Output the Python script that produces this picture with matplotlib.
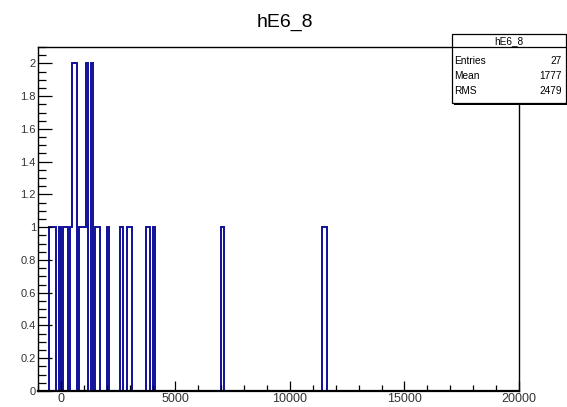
import numpy as np
import matplotlib
matplotlib.use('Agg')
import matplotlib.pyplot as plt
from matplotlib.ticker import MultipleLocator, FuncFormatter

plt.rcParams['font.family'] = ['Liberation Sans', 'DejaVu Sans']

# histogram binning (100 per bin from -1000 to 20000)
x_min, x_max, bin_w = -1000, 20000, 100

# non-empty bins: lower edge -> entries
bin_lo = [-500, -400, -300, -100, 100, 200, 400, 500, 600, 800, 900, 1000,
          1100, 1300, 1500, 1600, 2000, 2600, 2900, 3000, 3700, 3800,
          4000, 7000, 11400, 11500]
bin_cnt = [1, 1, 1, 1, 1, 1, 1, 2, 2, 1, 1, 1,
           2, 2, 1, 1, 1, 1, 1, 1, 1, 1,
           1, 1, 1, 1]

# stats box
hist_name = 'hE6_8'
stat_names = ['Entries', 'Mean', 'RMS']
stat_vals = ['27', '1777', '2479']

edges = np.arange(x_min, x_max + bin_w, bin_w)
counts = np.zeros(len(edges) - 1)
for lo, c in zip(bin_lo, bin_cnt):
    counts[(lo - x_min) // bin_w] = c

fig = plt.figure(figsize=(5.67, 4.07), dpi=100)
ax = fig.add_axes([38 / 567, 16 / 407, 481 / 567, 344 / 407])

ax.stairs(counts, edges, color='#10109a', linewidth=1.4, baseline=None, zorder=1)

ax.set_xlim(x_min, x_max)
ax.set_ylim(0, 2.1)

ax.xaxis.set_major_locator(MultipleLocator(5000))
ax.xaxis.set_minor_locator(MultipleLocator(1000))
ax.yaxis.set_major_locator(MultipleLocator(0.2))
ax.yaxis.set_minor_locator(MultipleLocator(0.05))
ax.yaxis.set_major_formatter(FuncFormatter(lambda v, p: '%g' % round(v, 2)))

ax.tick_params(axis='x', which='major', direction='in', length=7.5, width=0.9,
               labelsize=9, pad=1.5, colors='black', labelcolor='#333333')
ax.tick_params(axis='x', which='minor', direction='in', length=4, width=0.9)
ax.tick_params(axis='y', which='major', direction='in', length=10, width=0.9,
               labelsize=8, pad=1.5, labelcolor='#333333')
ax.tick_params(axis='y', which='minor', direction='in', length=5.5, width=0.9)
for s in ax.spines.values():
    s.set_linewidth(1.0)
    s.set_zorder(3)
ax.spines['bottom'].set_linewidth(1.6)

fig.text(285 / 567, 1 - 22 / 407, hist_name, ha='center', va='center', fontsize=14)

# stats box
bx0, bx1 = 452 / 567, 566 / 567
by0, by1 = 1 - 103 / 407, 1 - 34 / 407
fig.patches.append(plt.Rectangle((bx0 + 2 / 567, by0 - 2 / 407), bx1 - bx0, by1 - by0,
                                 transform=fig.transFigure, facecolor='black',
                                 edgecolor='none', zorder=5))
fig.patches.append(plt.Rectangle((bx0, by0), bx1 - bx0, by1 - by0,
                                 transform=fig.transFigure, facecolor='white',
                                 edgecolor='black', linewidth=0.9, zorder=6))
sep_y = 1 - 47 / 407
fig.add_artist(plt.Line2D([bx0, bx1], [sep_y, sep_y], transform=fig.transFigure,
                          color='black', linewidth=0.9, zorder=7))
fig.text((bx0 + bx1) / 2, 1 - 41 / 407, hist_name, ha='center', va='center',
         fontsize=7.2, zorder=8)
row_y = [61, 76, 91]
for name, val, ry in zip(stat_names, stat_vals, row_y):
    fig.text(bx0 + 2 / 567, 1 - ry / 407, name, ha='left', va='center', fontsize=7.3, zorder=8)
    fig.text(bx1 - 4 / 567, 1 - ry / 407, val, ha='right', va='center', fontsize=7.3, zorder=8)

fig.savefig('out.png', dpi=100)
